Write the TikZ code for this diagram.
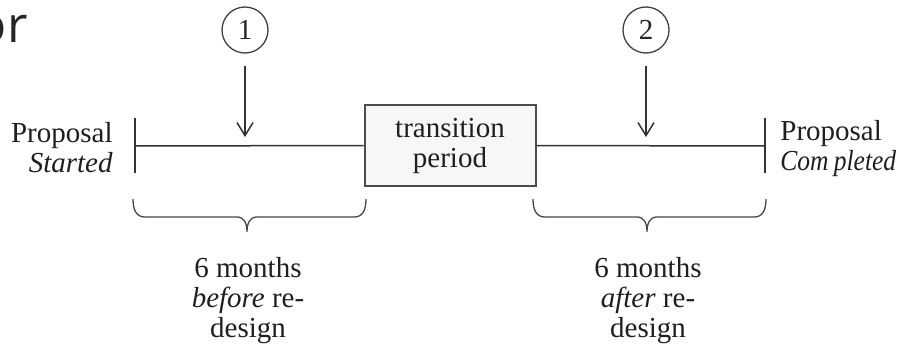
\documentclass[tikz,border=0pt]{standalone}
\usepackage{fontspec}
\setmainfont{Liberation Serif}
\newfontfamily\headfont{Open Sans}
\usetikzlibrary{arrows.meta}

\begin{document}
\begin{tikzpicture}[x=0.5pt,y=-0.5pt,
  ink/.style={draw=black!80, line width=0.75pt},
  lbl/.style={font=\fontsize{14.5}{15}\selectfont, text=black!88, inner sep=0pt},
  numcircle/.style={circle, draw=black!75, line width=0.65pt, minimum size=23pt,
    inner sep=0pt, font=\fontsize{14.5}{15}\selectfont, text=black!85},
  pointer/.style={ink, -{Straight Barb[length=6.5pt,width=8pt]}},
  periodbox/.style={rectangle, draw=black!70, fill=black!3, line width=1pt,
    minimum width=85.5pt, minimum height=40.5pt, inner sep=0pt, align=center,
    font=\fontsize{14.5}{15}\selectfont, text=black!88},
  bracestyle/.style={draw=black!72, line width=0.65pt},
  headtext/.style={font=\headfont\fontsize{25}{30}\selectfont, text=black!85, inner sep=0pt}
]
\useasboundingbox (0,0) rectangle (904,348);

% heading fragment
\node[headtext, anchor=base east] (hd) at (28,42) {or};

% numbered markers and their pointers
\node[numcircle] (c1) at (245,30) {1};
\node[numcircle] (c2) at (646,30) {2};
\coordinate (h1) at (245,137);
\coordinate (h2) at (646,137);
\draw[pointer, shorten <=6pt] (c1) -- (h1);
\draw[pointer, shorten <=6pt] (c2) -- (h2);

% timeline
\node[periodbox] (tp) at (450,145.5) {transition\\period};
\coordinate (s) at (135,146);
\coordinate (e) at (765,146);
\coordinate (st) at (135,118);
\coordinate (sb) at (135,173);
\coordinate (et) at (765,118);
\coordinate (eb) at (765,173);
\draw[ink] (st) -- (sb);
\draw[ink] (et) -- (eb);
\draw[ink] (s) -- (tp.west);
\draw[ink] (tp.east) -- (e);

% end labels
\node[lbl, align=right, anchor=east] (ps) at (113,148) {Proposal\\\textit{Started}};
\node[lbl, align=left, anchor=west] (pc) at (780,149)
  {Proposal\\\scalebox{0.88}[1]{\textit{Com\hspace{3pt}pleted}}};

% braces under the two periods
\draw[bracestyle] (133,199) .. controls (133,211) and (137,217) .. (145,217)
  -- (237,217) .. controls (244,217) and (247,223) .. (247,232)
  .. controls (247,223) and (250,217) .. (257,217)
  -- (354,217) .. controls (362,217) and (366,211) .. (366,199);
\draw[bracestyle] (533,199) .. controls (533,211) and (537,217) .. (545,217)
  -- (637,217) .. controls (644,217) and (647,223) .. (647,232)
  .. controls (647,223) and (650,217) .. (657,217)
  -- (754,217) .. controls (762,217) and (766,211) .. (766,199);

% period labels
\node[lbl, align=center] (b1) at (248,300.5) {6 months\\\textit{before} re-\\design};
\node[lbl, align=center] (b2) at (648,300.5) {6 months\\\textit{after} re-\\design};
\end{tikzpicture}
\end{document}
